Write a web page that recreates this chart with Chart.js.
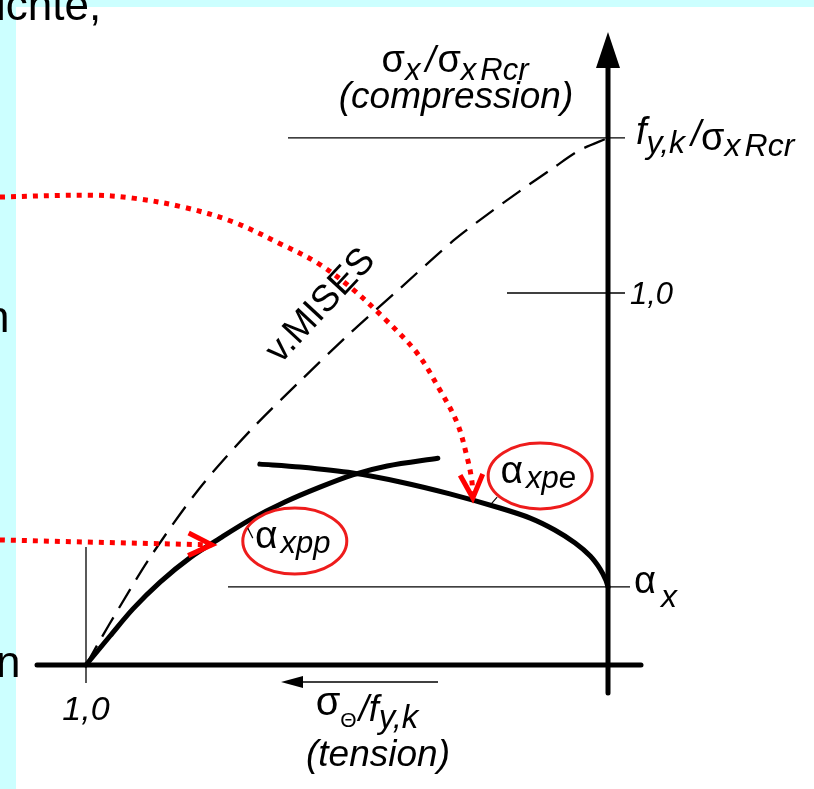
<!DOCTYPE html>
<html>
<head>
<meta charset="utf-8">
<script src="https://cdn.jsdelivr.net/npm/chart.js@4.4.1/dist/chart.umd.min.js"></script>
<style>
  html, body { margin: 0; padding: 0; background: #fff; overflow: hidden; }
  body { width: 814px; height: 789px; position: relative; font-family: "Liberation Sans", Arial, sans-serif; }
  .strip { position: absolute; background: #ccffff; }
  .slide { position: absolute; font-size: 44px; line-height: 44px; color: #000; white-space: nowrap; }
  canvas { position: absolute; left: 0; top: 0; }
</style>
</head>
<body>
<div class="strip" style="left:0;top:0;width:16px;height:789px"></div>
<div class="strip" style="left:0;top:0;width:814px;height:7px"></div>
<canvas id="chart" width="814" height="789"></canvas>
<div class="slide" style="left:-4px;top:-17px">ichte,</div>
<div class="slide" style="left:-15px;top:295px">n</div>
<div class="slide" style="left:-4px;top:640px">n</div>
<script>
// x: σΘ/fy,k (tension, drawn right to left), y: σx/σxRcr (compression)
const misesTension     = [1.0, 0.973, 0.939, 0.877, 0.782, 0.686, 0.590, 0.494, 0.398, 0.297, 0.232, 0.169, 0.105, 0.054, 0.0];
const misesCompression = [0.0, 0.067, 0.148, 0.290, 0.476, 0.629, 0.763, 0.892, 1.013, 1.140, 1.210, 1.274, 1.336, 1.384, 1.417];

const plasticTension     = [1.0, 0.954, 0.910, 0.858, 0.801, 0.743, 0.686, 0.619, 0.552, 0.489, 0.423, 0.326];
const plasticCompression = [0.0, 0.078, 0.151, 0.223, 0.288, 0.341, 0.390, 0.438, 0.478, 0.511, 0.535, 0.556];

const elasticTension     = [0.667, 0.590, 0.489, 0.398, 0.303, 0.207, 0.149, 0.102, 0.063, 0.034, 0.015, 0.004, 0.0];
const elasticCompression = [0.540, 0.532, 0.516, 0.492, 0.460, 0.422, 0.395, 0.363, 0.328, 0.293, 0.258, 0.228, 0.210];

// red pointers coming in from the slide text
const arcTension     = [1.165, 0.992, 0.910, 0.814, 0.718, 0.623, 0.557, 0.494, 0.431, 0.366, 0.322, 0.289, 0.270, 0.261, 0.259];
const arcCompression = [1.258, 1.263, 1.255, 1.231, 1.191, 1.129, 1.081, 1.016, 0.935, 0.839, 0.739, 0.651, 0.559, 0.497, 0.449];
const flatTension     = [1.165, 0.759];
const flatCompression = [0.336, 0.323];

const compressionTicks = [1.417, 1.0, 0.21];
const tensionTicks = [1.0];
const tensionTickLabels = ['1,0'];

const FONT = '"Liberation Sans", Arial, sans-serif';

function pts(xs, ys) {
  return xs.map((v, i) => ({ x: v, y: ys[i] }));
}

// draws a row of text pieces (sub/superscripts via dy) starting at x, or centred on x
function drawRuns(ctx, x, y, runs, align) {
  const widths = runs.map(r => {
    ctx.font = (r.i ? 'italic ' : '') + r.s + 'px ' + FONT;
    return ctx.measureText(r.t).width + (r.g || 0);
  });
  const total = widths.reduce((a, b) => a + b, 0);
  let cx = align === 'center' ? x - total / 2 : x;
  ctx.textAlign = 'left';
  ctx.textBaseline = 'alphabetic';
  runs.forEach((r, k) => {
    ctx.font = (r.i ? 'italic ' : '') + r.s + 'px ' + FONT;
    ctx.fillText(r.t, cx + (r.g || 0), y + (r.dy || 0));
    cx += widths[k];
  });
}

function arrowHead(ctx, tip, from, len, spread) {
  const a = Math.atan2(tip.y - from.y, tip.x - from.x);
  ctx.beginPath();
  ctx.moveTo(tip.x - len * Math.cos(a - spread), tip.y - len * Math.sin(a - spread));
  ctx.lineTo(tip.x, tip.y);
  ctx.lineTo(tip.x - len * Math.cos(a + spread), tip.y - len * Math.sin(a + spread));
  ctx.stroke();
}

const diagram = {
  id: 'diagram',
  beforeDatasetsDraw(chart) {
    const { ctx, scales: { x, y } } = chart;
    const x0 = x.getPixelForValue(0), y0 = y.getPixelForValue(0);
    const reach = [320, 101, 380], over = [17, 17, 22];
    ctx.save();
    ctx.strokeStyle = '#000';
    ctx.fillStyle = '#000';

    // guide lines
    ctx.lineWidth = 1.3;
    compressionTicks.forEach((v, i) => {
      const py = y.getPixelForValue(v);
      ctx.beginPath();
      ctx.moveTo(x0 - reach[i], py);
      ctx.lineTo(x0 + over[i], py);
      ctx.stroke();
    });
    tensionTicks.forEach(v => {
      const px = x.getPixelForValue(v);
      ctx.beginPath();
      ctx.moveTo(px, y0 - 118);
      ctx.lineTo(px, y0 + 18);
      ctx.stroke();
    });

    // axes
    ctx.lineWidth = 5;
    ctx.lineCap = 'round';
    ctx.beginPath();
    ctx.moveTo(x.getPixelForValue(1) - 49, y0);
    ctx.lineTo(x0 + 33, y0);
    ctx.stroke();
    ctx.beginPath();
    ctx.moveTo(x0, y0 + 28);
    ctx.lineTo(x0, 66);
    ctx.stroke();
    ctx.beginPath();
    ctx.moveTo(x0, 32);
    ctx.lineTo(x0 - 12, 68);
    ctx.lineTo(x0 + 12, 68);
    ctx.closePath();
    ctx.fill();

    // tension direction arrow
    ctx.lineWidth = 1.5;
    ctx.lineCap = 'butt';
    ctx.beginPath();
    ctx.moveTo(300, y0 + 17);
    ctx.lineTo(438, y0 + 17);
    ctx.stroke();
    ctx.beginPath();
    ctx.moveTo(281, y0 + 17);
    ctx.lineTo(303, y0 + 11);
    ctx.lineTo(303, y0 + 23);
    ctx.closePath();
    ctx.fill();

    // tick labels
    const yLab = compressionTicks.map(v => y.getPixelForValue(v));
    drawRuns(ctx, x0 + 28, yLab[0] + 6, [
      { t: 'f', s: 38, i: true },
      { t: 'y,k', s: 32, i: true, dy: 9 },
      { t: '/', s: 36, i: true, g: 6, dy: 2 },
      { t: 'σ', s: 38, dy: 6 },
      { t: 'x', s: 32, i: true, dy: 12 },
      { t: 'Rcr', s: 32, i: true, dy: 12, g: 4 }
    ]);
    drawRuns(ctx, x0 + 22, yLab[1] + 11, [{ t: '1,0', s: 31, i: true }]);
    drawRuns(ctx, x0 + 26, yLab[2] + 6, [
      { t: 'α', s: 38 },
      { t: 'x', s: 32, i: true, dy: 14, g: 5 }
    ]);
    tensionTicks.forEach((v, i) => {
      drawRuns(ctx, x.getPixelForValue(v), y0 + 55, [{ t: tensionTickLabels[i], s: 34, i: true }], 'center');
    });

    // axis titles
    drawRuns(ctx, 455, 72, [
      { t: 'σ', s: 38 },
      { t: 'x', s: 31, i: true, dy: 8 },
      { t: '/', s: 36, i: true, g: 5 },
      { t: 'σ', s: 38, g: 2 },
      { t: 'x', s: 31, i: true, dy: 8 },
      { t: 'Rcr', s: 31, i: true, dy: 8, g: 4 }
    ], 'center');
    drawRuns(ctx, 456, 108, [{ t: '(compression)', s: 37, i: true }], 'center');
    drawRuns(ctx, 367, 715, [
      { t: 'σ', s: 40 },
      { t: 'Θ', s: 21, dy: 12 },
      { t: '/f', s: 36, i: true, dy: 6, g: 2 },
      { t: 'y,k', s: 33, i: true, dy: 13 }
    ], 'center');
    drawRuns(ctx, 378, 766, [{ t: '(tension)', s: 37, i: true }], 'center');

    // von Mises label along the dashed curve
    ctx.save();
    ctx.translate(321, 306);
    ctx.rotate(-47 * Math.PI / 180);
    ctx.font = '37px ' + FONT;
    ctx.textAlign = 'center';
    ctx.textBaseline = 'middle';
    ctx.fillText('v.MISES', 0, 0);
    ctx.restore();

    ctx.restore();
  },
  afterDatasetsDraw(chart) {
    const { ctx, scales: { x, y } } = chart;
    ctx.save();

    // arrow heads on the red pointers
    ctx.strokeStyle = '#ff0000';
    ctx.lineWidth = 5;
    ctx.lineCap = 'butt';
    ctx.lineJoin = 'miter';
    [0, 1].forEach(i => {
      const d = chart.getDatasetMeta(i).data;
      const tip = d[d.length - 1], from = d[d.length - 2];
      arrowHead(ctx, { x: tip.x, y: tip.y }, { x: from.x, y: from.y }, 26, 0.45);
    });

    // circled labels for the two limit curves
    const notes = [
      { t: 'xpp', at: { x: 0.600, y: 0.333 }, lead: [[-47, -13], [-42, -3]] },
      { t: 'xpe', at: { x: 0.130, y: 0.508 }, lead: [[-50, 29], [-43, 21]] }
    ];
    notes.forEach(n => {
      const cx = x.getPixelForValue(n.at.x), cy = y.getPixelForValue(n.at.y);
      ctx.strokeStyle = '#ee1c1c';
      ctx.lineWidth = 3;
      ctx.beginPath();
      ctx.ellipse(cx, cy, 52, 33, 0, 0, Math.PI * 2);
      ctx.stroke();
      ctx.strokeStyle = '#000';
      ctx.lineWidth = 1.2;
      ctx.beginPath();
      ctx.moveTo(cx + n.lead[0][0], cy + n.lead[0][1]);
      ctx.lineTo(cx + n.lead[1][0], cy + n.lead[1][1]);
      ctx.stroke();
      ctx.fillStyle = '#000';
      drawRuns(ctx, cx - 2, cy + 7, [
        { t: 'α', s: 39 },
        { t: n.t, s: 31, i: true, dy: 5, g: 3 }
      ], 'center');
    });
    ctx.restore();
  }
};

const dotted = { borderColor: '#ff0000', borderWidth: 5, borderDash: [5, 6], borderCapStyle: 'butt' };

new Chart(document.getElementById('chart').getContext('2d'), {
  type: 'scatter',
  data: {
    datasets: [
      Object.assign({ label: 'arc', data: pts(arcTension, arcCompression), tension: 0.35 }, dotted),
      Object.assign({ label: 'flat', data: pts(flatTension, flatCompression), tension: 0 }, dotted),
      { label: 'v.MISES', data: pts(misesTension, misesCompression), borderColor: '#000', borderWidth: 2.3, borderDash: [22, 11], tension: 0.3 },
      { label: 'αxpp', data: pts(plasticTension, plasticCompression), borderColor: '#000', borderWidth: 5, tension: 0.3, borderCapStyle: 'round' },
      { label: 'αxpe', data: pts(elasticTension, elasticCompression), borderColor: '#000', borderWidth: 5, tension: 0.3, borderCapStyle: 'round' }
    ].map(ds => Object.assign({ showLine: true, pointRadius: 0, clip: false, fill: false }, ds))
  },
  options: {
    responsive: false,
    animation: false,
    events: [],
    layout: { padding: { left: 86, right: 206, top: 293, bottom: 124 } },
    scales: {
      x: { type: 'linear', reverse: true, min: 0, max: 1, display: false },
      y: { type: 'linear', min: 0, max: 1, display: false }
    },
    plugins: { legend: { display: false }, tooltip: { enabled: false } }
  },
  plugins: [diagram]
});
</script>
</body>
</html>
